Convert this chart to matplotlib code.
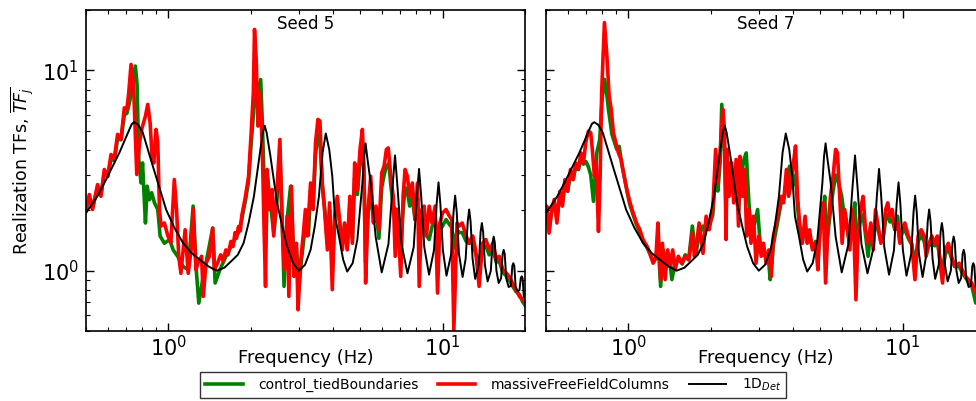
import matplotlib
matplotlib.use("Agg")
import matplotlib.pyplot as plt

# ---------------- data ----------------
# 1D deterministic transfer function (same in both panels)
det_f = [0.50, 0.55, 0.592, 0.662, 0.72, 0.735, 0.75, 0.775, 0.806, 0.877, 0.98,
         1.05, 1.13, 1.21, 1.30, 1.40, 1.50,
         1.60, 1.70, 1.79, 1.88, 1.96, 2.05, 2.165, 2.21, 2.245, 2.28, 2.355, 2.49, 2.60, 2.71, 2.85, 2.99,
         3.15, 3.30, 3.42, 3.54, 3.65, 3.75, 3.86, 3.96, 4.05, 4.19, 4.34, 4.49,
         4.70, 4.89, 5.10, 5.17, 5.24, 5.31, 5.47, 5.70, 6.00,
         6.35, 6.56, 6.71, 6.86, 7.08, 7.45,
         7.85, 8.06, 8.21, 8.36, 8.58, 8.93,
         9.31, 9.52, 9.67, 9.82, 10.03, 10.34,
         10.76, 10.97, 11.12, 11.27, 11.48, 11.84,
         12.15, 12.36, 12.51, 12.66, 12.87, 13.16,
         13.56, 13.77, 13.92, 14.07, 14.28, 14.61,
         15.01, 15.22, 15.37, 15.52, 15.73, 16.03,
         16.36, 16.57, 16.72, 16.87, 17.08, 17.43,
         17.77, 17.98, 18.13, 18.28, 18.49, 18.81,
         19.09, 19.30, 19.45, 19.60, 19.81, 20.2]
det_v = [1.94, 2.35, 2.85, 3.88, 5.07, 5.40, 5.51, 5.35, 4.88, 3.32, 2.02,
         1.64, 1.375, 1.23, 1.135, 1.05, 1.00,
         1.035, 1.12, 1.20, 1.375, 1.73, 2.35, 4.03, 4.90, 5.29, 4.90, 3.73, 2.18, 1.67, 1.32, 1.09, 1.00,
         1.07, 1.27, 1.67, 2.35, 3.88, 4.84, 4.03, 2.96, 1.87, 1.48, 1.135, 0.99,
         1.09, 1.43, 2.74, 3.70, 4.32, 3.70, 2.74, 1.48, 0.98,
         1.36, 2.55, 3.76, 2.55, 1.36, 0.97,
         1.31, 2.35, 3.22, 2.35, 1.31, 0.955,
         1.27, 2.16, 2.76, 2.16, 1.27, 0.944,
         1.215, 1.96, 2.37, 1.96, 1.215, 0.93,
         1.15, 1.76, 2.02, 1.76, 1.15, 0.91,
         1.07, 1.56, 1.73, 1.56, 1.07, 0.884,
         1.00, 1.38, 1.48, 1.38, 1.00, 0.868,
         0.917, 1.21, 1.27, 1.21, 0.917, 0.829,
         0.84, 1.057, 1.09, 1.057, 0.83, 0.788,
         0.80, 0.918, 0.937, 0.918, 0.738, 0.716]

# Seed 5 - massiveFreeFieldColumns (red)
s5_red_f = [0.500, 0.514, 0.528, 0.551, 0.567, 0.583, 0.600, 0.617, 0.634, 0.652, 0.671, 0.690, 0.705,
            0.716, 0.730, 0.745, 0.757, 0.766, 0.784, 0.801, 0.824, 0.840, 0.857, 0.871, 0.884, 0.901,
            0.914, 0.927, 0.940, 0.966, 0.995, 1.02, 1.05, 1.07, 1.09, 1.11, 1.15, 1.18, 1.21, 1.23,
            1.26, 1.28, 1.32, 1.34, 1.37, 1.41, 1.45, 1.47, 1.51, 1.55, 1.58, 1.62, 1.65, 1.69, 1.72,
            1.75, 1.77, 1.80, 1.83, 1.85,
            1.91, 1.96, 2.00, 2.04, 2.06, 2.09, 2.12, 2.16, 2.20, 2.23, 2.26, 2.29, 2.34, 2.39, 2.42,
            2.48, 2.55, 2.60, 2.65, 2.71, 2.75, 2.81, 2.87, 2.93, 2.97, 3.03, 3.10, 3.16, 3.21, 3.30,
            3.37, 3.44, 3.51, 3.57, 3.64, 3.71, 3.80, 3.87, 3.96, 4.04, 4.13, 4.23, 4.31, 4.39, 4.49,
            4.59, 4.69, 4.78, 4.89, 5.00, 5.10, 5.17, 5.24, 5.35, 5.47, 5.60, 5.72, 5.86, 6.00, 6.12,
            6.24, 6.34, 6.47, 6.61, 6.72, 6.84, 6.94, 7.04, 7.18, 7.30, 7.44, 7.59, 7.76, 7.94, 8.11,
            8.22, 8.40, 8.57, 8.74, 8.94, 9.15, 9.40, 9.59, 9.78, 10.0, 10.3, 10.6, 10.8, 11.0, 11.3,
            11.5, 11.8, 12.2, 12.5, 12.9, 13.2, 13.6, 14.0, 14.4, 14.8, 15.3, 15.7, 16.1, 16.6, 17.1,
            17.5, 18.0, 18.5, 19.1, 19.6, 20.2]
s5_red_v = [2.02, 2.40, 2.02, 2.69, 2.35, 3.20, 2.96, 3.80, 3.59, 4.79, 4.52, 6.50, 6.38,
            7.73, 10.7, 8.67, 4.69, 3.02, 4.35, 5.17, 5.91, 6.76, 5.47, 3.73, 3.45, 5.07,
            4.35, 2.02, 1.67, 1.73, 1.49, 1.38, 2.85, 2.02, 1.18, 0.97, 1.60, 0.97, 1.27, 2.02,
            1.01, 1.09, 1.18, 0.744, 1.09, 1.18, 1.63, 1.01, 1.09, 1.20, 1.12, 1.27, 1.20, 1.40, 1.32,
            1.55, 1.45, 1.66, 1.58, 1.87,
            2.35, 2.96, 4.70, 7.73, 16.0, 11.3, 5.27, 7.73, 4.03, 1.73, 0.835, 3.20, 2.02, 2.54, 1.49,
            2.35, 4.52, 1.67, 1.01, 1.87, 0.744, 2.64, 0.937, 1.37, 0.638, 1.09, 1.49, 2.02, 1.49, 2.74,
            2.02, 4.35, 5.69, 5.58, 2.74, 2.02, 1.27, 2.18, 0.804, 1.87, 2.35, 1.67, 1.27, 1.73, 1.27,
            2.35, 1.37, 3.45, 2.54, 4.03, 5.07, 3.20, 0.868, 2.02, 2.96, 1.73, 2.10, 1.60, 3.08, 3.32,
            4.03, 4.10, 2.96, 2.35, 1.18, 2.02, 1.37, 0.937, 2.35, 3.20, 2.96, 2.35, 2.74, 1.80, 2.74,
            0.835, 2.02, 2.10, 1.49, 2.10, 1.73, 2.10, 0.773, 1.73, 1.94, 2.02, 1.87, 1.80, 0.507, 1.73,
            1.67, 1.73, 1.49, 1.37, 1.49, 1.27, 0.835, 1.37, 1.43, 1.27, 1.37, 1.14, 1.18, 1.01, 0.973,
            0.937, 0.868, 0.804, 0.744, 0.716, 0.689]

# Seed 5 - control_tiedBoundaries (green)
s5_grn_f = [0.500, 0.514, 0.528, 0.551, 0.567, 0.583, 0.600, 0.617, 0.634, 0.652, 0.671, 0.690, 0.705,
            0.722, 0.740, 0.757, 0.768, 0.779, 0.794, 0.804, 0.824, 0.836, 0.852, 0.868, 0.889, 0.914,
            0.932, 0.966, 1.01, 1.04, 1.08, 1.13, 1.18, 1.23, 1.26, 1.29, 1.34, 1.37, 1.45, 1.48, 1.54,
            1.62, 1.72, 1.80, 1.85, 1.91, 1.96, 2.00, 2.05, 2.10, 2.17, 2.20, 2.23, 2.27, 2.30, 2.36,
            2.42, 2.48, 2.55, 2.60, 2.64, 2.71, 2.79, 2.87, 2.93, 2.99, 3.05, 3.12, 3.18, 3.24, 3.30,
            3.37, 3.44, 3.51, 3.57, 3.64, 3.72, 3.80, 3.88, 3.96, 4.04, 4.13, 4.23, 4.31, 4.39, 4.49,
            4.59, 4.69, 4.78, 4.89, 5.00, 5.10, 5.17, 5.24, 5.35, 5.47, 5.60, 5.72, 5.86, 6.00, 6.12,
            6.24, 6.38, 6.47, 6.61, 6.76, 6.94, 7.04, 7.18, 7.30, 7.44, 7.59, 7.76, 7.94, 8.11, 8.22,
            8.40, 8.57, 8.74, 8.94, 9.15, 9.40, 9.59, 9.78, 10.0, 10.3, 10.6, 10.8, 11.0, 11.3, 11.5,
            11.8, 12.2, 12.5, 12.9, 13.2, 13.6, 14.0, 14.4, 14.8, 15.3, 15.7, 16.1, 16.6, 17.1, 17.5,
            18.0, 18.5, 19.1, 19.6, 20.2]
s5_grn_v = [2.00, 2.30, 2.05, 2.60, 2.40, 3.05, 2.95, 3.60, 3.55, 4.55, 4.50, 6.00, 6.10,
            7.00, 8.50, 10.5, 8.50, 3.59, 2.74, 3.45, 1.73, 2.64, 2.26, 2.45, 2.18, 2.02,
            1.49, 1.37, 1.43, 1.27, 1.18, 1.05, 1.01, 2.10, 1.05, 0.689, 0.94, 1.09, 1.63, 0.868, 1.01,
            1.18, 1.38, 1.55, 1.80, 2.25, 2.80, 4.20, 6.50, 7.50, 9.00, 5.50, 3.00, 1.60, 2.90, 2.10,
            1.55, 2.10, 3.80, 1.80, 0.835, 1.80, 2.64, 1.10, 1.30, 0.80, 1.10, 1.45, 1.90, 1.50, 2.50,
            2.10, 3.80, 4.80, 4.50, 2.70, 2.00, 1.40, 2.00, 1.00, 1.80, 2.20, 1.65, 1.35, 1.70, 1.30,
            2.10, 1.45, 2.90, 2.40, 3.50, 4.30, 3.00, 1.10, 1.90, 2.60, 1.75, 2.00, 1.45, 2.60, 3.00,
            3.30, 3.45, 2.70, 2.10, 2.02, 1.50, 1.40, 2.00, 2.60, 2.50, 2.10, 2.30, 1.80, 2.30, 1.40,
            1.90, 1.90, 1.50, 1.43, 1.65, 1.85, 1.40, 1.60, 1.67, 1.80, 1.70, 1.65, 1.30, 1.60, 1.55,
            1.55, 1.40, 1.37, 1.40, 1.22, 1.10, 1.28, 1.33, 1.20, 1.28, 1.10, 1.12, 0.98, 0.94, 0.90,
            0.84, 0.79, 0.76, 0.70, 0.66]

# Seed 7 - massiveFreeFieldColumns (red)
s7_red_f = [0.500, 0.503, 0.513, 0.525, 0.536, 0.548, 0.562, 0.574, 0.586, 0.600, 0.614, 0.628, 0.642,
            0.656, 0.671, 0.685, 0.698, 0.714, 0.728, 0.738, 0.751, 0.762, 0.777, 0.788, 0.798, 0.817,
            0.834, 0.850, 0.865, 0.881, 0.899, 0.919, 0.940, 0.959, 0.986, 1.01, 1.04, 1.07, 1.10, 1.13,
            1.17, 1.20, 1.23, 1.26, 1.28, 1.31, 1.33, 1.36, 1.39, 1.42, 1.45, 1.48, 1.52, 1.57, 1.61,
            1.66, 1.71, 1.74, 1.76, 1.81, 1.87, 1.92, 1.97, 2.03, 2.08, 2.12, 2.16, 2.21, 2.24, 2.27,
            2.29, 2.33, 2.38, 2.42, 2.47, 2.52, 2.55, 2.60, 2.65, 2.70, 2.75, 2.80, 2.86, 2.92, 2.99,
            3.05, 3.11, 3.18, 3.25, 3.32, 3.38, 3.46, 3.54, 3.61, 3.68, 3.77, 3.84, 3.93, 4.00, 4.07,
            4.14, 4.21, 4.31, 4.41, 4.49, 4.58, 4.69, 4.82, 4.91, 5.01, 5.13, 5.24, 5.35, 5.46, 5.58,
            5.70, 5.79, 5.90, 6.02, 6.15, 6.29, 6.42, 6.55, 6.65, 6.76, 6.89, 7.03, 7.18, 7.33, 7.49,
            7.66, 7.82, 7.97, 8.15, 8.34, 8.50, 8.68, 8.83, 9.00, 9.17, 9.38, 9.59, 9.78, 9.97, 10.2,
            10.5, 10.8, 11.1, 11.4, 11.7, 12.0, 12.2, 12.5, 12.8, 13.1, 13.4, 13.7, 14.0, 14.3, 14.7,
            15.1, 15.5, 16.1, 16.5, 17.0, 17.4, 17.9, 18.5, 19.3, 20.0]
s7_red_v = [1.90, 2.10, 1.54, 2.02, 2.27, 1.73, 2.49, 2.10, 2.85, 2.49, 3.20, 2.85, 3.45,
            3.20, 3.87, 3.45, 4.35, 4.97, 4.88, 4.03, 2.96, 3.45, 1.57, 2.96, 7.73, 17.3,
            11.8, 7.44, 6.38, 4.88, 4.35, 3.87, 3.59, 3.08, 2.54, 2.22, 1.94, 1.73, 1.60, 1.43,
            1.32, 1.22, 1.09, 1.18, 1.73, 0.902, 1.37, 0.902, 1.27, 1.05, 1.27, 1.01, 1.18, 1.09, 1.18,
            1.13, 1.54, 1.18, 1.27, 1.73, 1.22, 1.87, 1.60, 2.02, 4.03, 2.74, 3.87, 6.38, 5.07, 1.43,
            4.03, 2.35, 3.45, 2.18, 3.59, 1.67, 3.72, 2.35, 3.20, 1.49, 2.02, 1.37, 1.87, 1.09, 1.49,
            1.18, 1.37, 1.09, 1.27, 0.937, 1.49, 1.73, 2.02, 2.35, 2.18, 3.20, 2.35, 2.74, 3.45, 4.19,
            2.35, 1.73, 1.37, 1.87, 1.37, 1.60, 1.27, 1.37, 1.01, 1.73, 2.18, 0.868, 1.67, 2.35, 2.96,
            4.03, 3.87, 2.35, 1.37, 2.02, 1.67, 1.27, 2.02, 1.49, 0.716, 1.60, 2.02, 2.35, 1.60, 1.37,
            1.73, 1.27, 2.02, 1.67, 1.37, 1.49, 2.02, 2.18, 1.87, 2.02, 1.60, 1.73, 1.37, 1.60, 1.73,
            1.49, 1.37, 0.902, 1.49, 1.60, 1.49, 1.18, 1.37, 1.49, 1.37, 1.49, 1.09, 0.868, 1.27, 1.37,
            1.18, 1.05, 1.09, 1.01, 0.937, 0.902, 0.868, 0.773, 0.72, 0.66]

# Seed 7 - control_tiedBoundaries (green)
s7_grn_f = [0.500, 0.503, 0.513, 0.525, 0.536, 0.548, 0.562, 0.574, 0.586, 0.600, 0.614, 0.628, 0.642,
            0.656, 0.671, 0.685, 0.700, 0.714, 0.728, 0.745, 0.766, 0.785, 0.800, 0.817, 0.830, 0.845,
            0.870, 0.890, 0.906, 0.925, 0.945, 0.965, 0.99, 1.01, 1.04, 1.07, 1.10, 1.13, 1.17, 1.20,
            1.23, 1.26, 1.28, 1.31, 1.34, 1.38, 1.41, 1.44, 1.48, 1.52, 1.57, 1.61, 1.66, 1.71, 1.76,
            1.81, 1.87, 1.92, 1.97, 2.03, 2.08, 2.12, 2.16, 2.19, 2.24, 2.27, 2.30, 2.35, 2.40, 2.46,
            2.52, 2.58, 2.64, 2.69, 2.75, 2.80, 2.88, 2.96, 3.02, 3.10, 3.18, 3.25, 3.29, 3.38, 3.46,
            3.54, 3.61, 3.70, 3.77, 3.87, 3.93, 4.00, 4.07, 4.14, 4.21, 4.31, 4.41, 4.49, 4.58, 4.69,
            4.82, 4.91, 5.01, 5.13, 5.20, 5.28, 5.35, 5.46, 5.58, 5.70, 5.82, 6.00, 6.15, 6.29, 6.42,
            6.55, 6.70, 6.80, 6.89, 7.03, 7.18, 7.33, 7.49, 7.66, 7.82, 7.97, 8.15, 8.34, 8.50, 8.68,
            8.83, 9.00, 9.17, 9.38, 9.60, 9.78, 9.97, 10.2, 10.5, 10.8, 11.1, 11.4, 11.7, 12.0, 12.2,
            12.5, 12.8, 13.1, 13.4, 13.7, 14.0, 14.3, 14.7, 15.1, 15.5, 16.1, 16.5, 17.0, 17.4, 17.9,
            18.5, 19.3, 20.0]
s7_grn_v = [1.90, 2.05, 1.60, 2.00, 2.20, 1.80, 2.40, 2.15, 2.75, 2.50, 3.05, 2.85, 3.30,
            3.20, 3.60, 3.40, 3.50, 3.30, 3.00, 2.22, 3.87, 4.50, 7.00, 9.02, 8.00, 6.38,
            4.80, 4.35, 4.03, 4.17, 3.40, 2.95, 2.45, 2.15, 1.90, 1.70, 1.55, 1.40, 1.30, 1.20,
            1.10, 1.15, 1.45, 0.835, 1.27, 1.05, 1.18, 0.902, 1.10, 1.15, 1.08, 1.20, 1.15, 1.67, 1.20,
            1.50, 1.67, 1.60, 1.67, 1.90, 3.00, 2.50, 3.50, 6.76, 4.00, 2.00, 3.50, 2.60, 3.10, 2.40,
            2.00, 3.00, 3.60, 3.87, 2.20, 1.60, 1.70, 2.02, 1.40, 1.25, 1.15, 1.10, 0.902, 1.35, 1.60,
            1.90, 2.20, 2.30, 2.80, 3.32, 2.60, 2.70, 3.00, 2.10, 1.60, 1.40, 1.70, 1.45, 1.50, 1.30,
            1.40, 1.15, 1.60, 1.90, 2.35, 1.40, 1.55, 2.00, 2.50, 3.00, 2.80, 2.35, 1.80, 1.60, 1.35,
            1.80, 2.18, 1.20, 1.50, 1.80, 1.90, 1.50, 1.18, 1.60, 1.35, 1.80, 1.60, 1.40, 1.45, 1.80,
            1.90, 1.75, 1.80, 1.60, 1.87, 1.40, 1.55, 1.60, 1.45, 1.35, 1.10, 1.40, 1.50, 1.40, 1.25,
            1.33, 1.40, 1.33, 1.40, 1.15, 1.00, 1.20, 1.30, 1.15, 1.05, 1.05, 0.98, 0.92, 0.88, 0.84,
            0.69, 0.70, 0.64]

panels = [("Seed 5", s5_grn_f, s5_grn_v, s5_red_f, s5_red_v),
          ("Seed 7", s7_grn_f, s7_grn_v, s7_red_f, s7_red_v)]

labels = ["control_tiedBoundaries", "massiveFreeFieldColumns", "1D$_{Det}$"]
xlim = (0.5, 20.0)
ylim = (0.5, 20.0)

# ---------------- styling ----------------
plt.rcParams.update({
    "font.family": ["DejaVu Sans"],
    "mathtext.fontset": "dejavusans",
    "xtick.direction": "in", "ytick.direction": "in",
    "xtick.top": True, "ytick.right": True,
    "xtick.major.size": 5.5, "ytick.major.size": 5.5,
    "xtick.minor.size": 3, "ytick.minor.size": 3,
    "xtick.major.width": 1.0, "ytick.major.width": 1.0,
    "xtick.minor.width": 0.8, "ytick.minor.width": 0.8,
    "xtick.labelsize": 15, "ytick.labelsize": 15,
    "xtick.major.pad": 3, "ytick.major.pad": 5,
    "axes.linewidth": 1.2,
})

W, H = 976, 401
fig = plt.figure(figsize=(W / 100, H / 100), dpi=100)
ax_w = 439 / W
ax_h = 321 / H
ax_b = 70 / H
lefts = [86 / W, 546 / W]

for i, (title, gf, gv, rf, rv) in enumerate(panels):
    ax = fig.add_axes([lefts[i], ax_b, ax_w, ax_h])
    lg, = ax.plot(gf, gv, color="#008000", lw=2.6, label=labels[0])
    lr, = ax.plot(rf, rv, color="#ff0000", lw=2.6, label=labels[1])
    lb, = ax.plot(det_f, det_v, color="black", lw=1.4, label=labels[2])
    ax.set_xscale("log")
    ax.set_yscale("log")
    ax.set_xlim(*xlim)
    ax.set_ylim(*ylim)
    ax.text(0.5, 0.985, title, transform=ax.transAxes, ha="center", va="top", fontsize=12)
    ax.set_xlabel("Frequency (Hz)", fontsize=13)
    ax.xaxis.set_label_coords(0.5, -0.055)
    if i == 0:
        ax.set_ylabel("Realization TFs, $\\overline{TF_j}$", fontsize=12.5, labelpad=4)
        handles = [lg, lr, lb]
    else:
        ax.tick_params(axis="y", which="both", labelleft=False)

leg = fig.legend(handles, labels, loc="center", bbox_to_anchor=(493 / W, 16 / H),
                 ncol=3, fontsize=10, frameon=True, fancybox=False, edgecolor="black",
                 handlelength=2.7, handletextpad=1.1, columnspacing=1.4, borderpad=0.35)
leg.get_frame().set_linewidth(1.0)

fig.savefig("out.png", dpi=100)
